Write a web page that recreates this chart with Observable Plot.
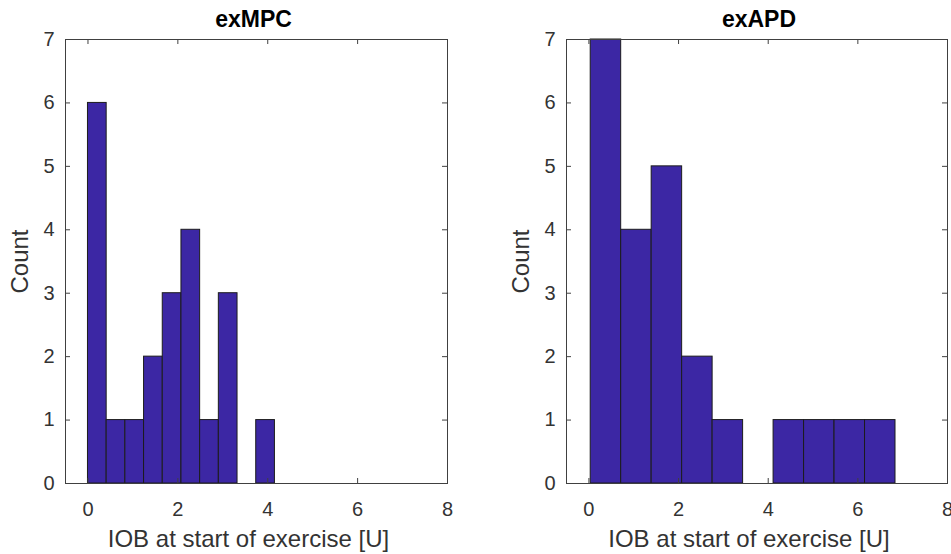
<!DOCTYPE html>
<html><head><meta charset="utf-8">
<script src="https://cdn.jsdelivr.net/npm/d3@7"></script>
<script src="https://cdn.jsdelivr.net/npm/@observablehq/plot@0.6"></script>
<style>
body{margin:0;background:#fff;}
#wrap{position:relative;width:951px;height:554px;overflow:hidden;background:#fff;}
#wrap > div{position:absolute;top:0;}
svg{overflow:visible;}
</style></head><body><div id="wrap"><div id="left"></div><div id="right" style="left:476px"></div></div>
<script>
const xTicks = [0, 2, 4, 6, 8];
const yTicks = [0, 1, 2, 3, 4, 5, 6, 7];
const mpcEdges = [0, 0.416, 0.832, 1.248, 1.664, 2.08, 2.496, 2.912, 3.328, 3.744, 4.16];
const mpcCounts = [6, 1, 1, 2, 3, 4, 1, 3, 0, 1];
const apdEdges = [0.04, 0.72, 1.40, 2.08, 2.76, 3.44, 4.12, 4.80, 5.48, 6.16, 6.84];
const apdCounts = [7, 4, 5, 2, 1, 0, 1, 1, 1, 1];
const titles = ["exMPC", "exAPD"];
const xLabel = "IOB at start of exercise [U]";
const yLabel = "Count";

function panel({edges, counts, title, width, marginLeft, marginRight, titleDx}) {
  const bins = counts.map((c, i) => ({x1: edges[i], x2: edges[i + 1], count: c}));
  const H = 554, mt = 39, mb = 71;
  const fh = H - mt - mb, fw = width - marginLeft - marginRight;
  const tick = 5;
  const axisColor = "#404040";
  const txt = {lineAnchor: "middle", fill: "#333"};
  return Plot.plot({
    width, height: H, marginLeft, marginRight, marginTop: mt, marginBottom: mb,
    x: {domain: [-0.5, 8], axis: null},
    y: {domain: [0, 7], axis: null},
    style: {fontFamily: "'Liberation Sans', Arial, sans-serif", color: "#262626", background: "transparent", overflow: "visible"},
    marks: [
      Plot.rect(bins, {x1: "x1", x2: "x2", y1: 0, y2: "count", fill: "#3c27a4", stroke: "#1c1c1c", strokeWidth: 1}),
      Plot.tickX(xTicks, {x: d => d, insetTop: fh - tick, stroke: axisColor}),
      Plot.tickX(xTicks, {x: d => d, insetBottom: fh - tick, stroke: axisColor}),
      Plot.tickY(yTicks, {y: d => d, insetRight: fw - tick, stroke: axisColor}),
      Plot.tickY(yTicks, {y: d => d, insetLeft: fw - tick, stroke: axisColor}),
      Plot.frame({stroke: axisColor}),
      Plot.text(xTicks, {...txt, x: d => d, text: d => String(d), frameAnchor: "bottom", textAnchor: "middle", dy: 26, fontSize: 20}),
      Plot.text(yTicks, {...txt, y: d => d, text: d => String(d), frameAnchor: "left", textAnchor: "end", dx: -11, fontSize: 20}),
      Plot.text([xLabel], {...txt, text: d => d, frameAnchor: "bottom", textAnchor: "middle", dy: 56, dx: -8, fontSize: 24}),
      Plot.text([yLabel], {...txt, text: d => d, frameAnchor: "left", textAnchor: "middle", dx: -45, rotate: -90, fontSize: 24}),
      Plot.text([title], {lineAnchor: "middle", text: d => d, frameAnchor: "top", textAnchor: "middle", dy: -20, dx: titleDx, fontSize: 23, fontWeight: "bold", fill: "#000"})
    ]
  });
}

document.getElementById("left").append(panel({edges: mpcEdges, counts: mpcCounts, title: titles[0], width: 476, marginLeft: 65, marginRight: 29, titleDx: -3}));
document.getElementById("right").append(panel({edges: apdEdges, counts: apdCounts, title: titles[1], width: 475, marginLeft: 90, marginRight: 4, titleDx: 2}));
</script></body></html>
